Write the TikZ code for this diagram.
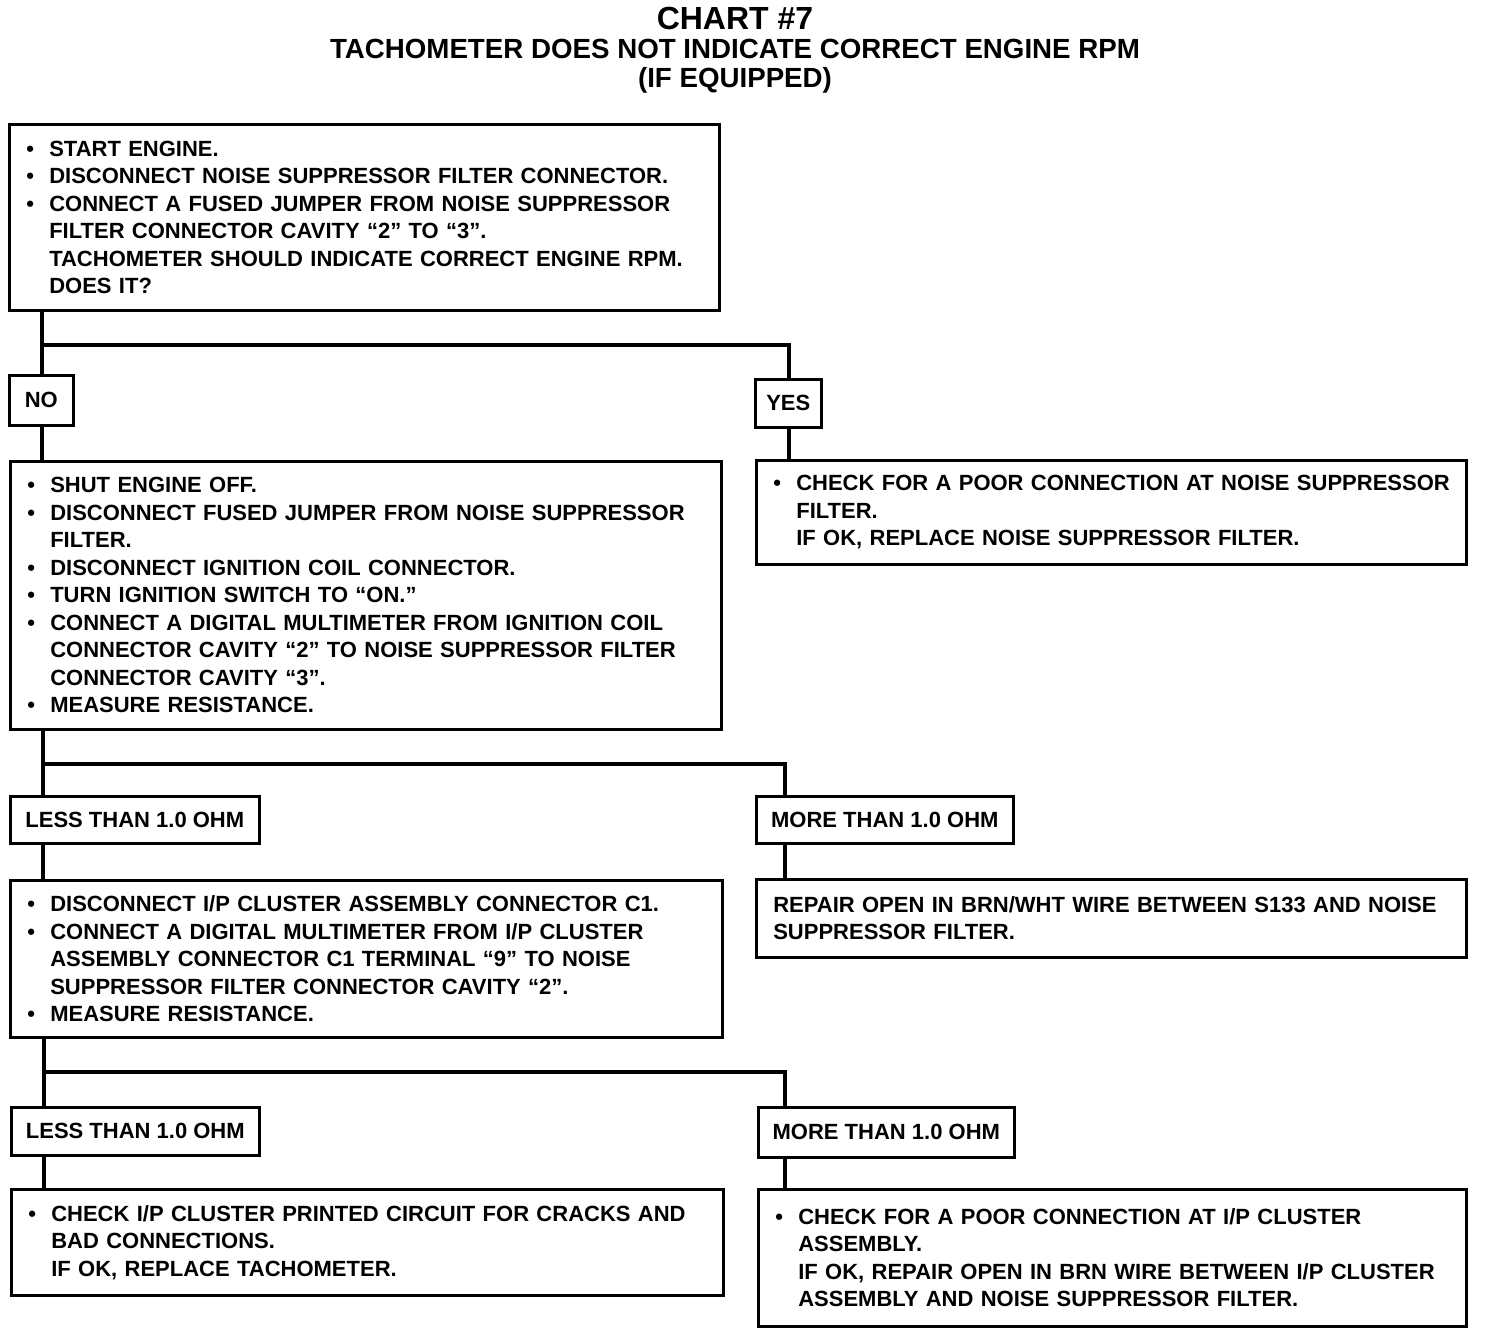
\documentclass[tikz,border=0pt]{standalone}
\usepackage{fontspec}
\setmainfont{Liberation Sans}
\usepackage{tikz}
\usetikzlibrary{positioning,calc}
\newcommand{\chartfont}{\fontsize{11pt}{13.75pt}\selectfont\bfseries}
\newcommand{\bitem}{\makebox[11.5pt][l]{\textbullet}}
\newcommand{\contline}{\hspace*{11.5pt}}

\begin{document}
\begin{tikzpicture}[x=0.5pt,y=-0.5pt,
    stepbox/.style={draw,line width=1.3pt,anchor=north west,align=left,font=\chartfont,inner xsep=8.5pt,inner ysep=0pt},
    answer/.style={draw,line width=1.3pt,anchor=north west,align=center,font=\chartfont,inner sep=0pt},
    wire/.style={line width=2.2pt,line join=miter}
  ]
    \useasboundingbox (0,0) rectangle (1488,1334);

    \node[font=\fontsize{16pt}{17pt}\selectfont\bfseries] (chart) at (735,18) {CHART \#7};
    \node[font=\fontsize{13.85pt}{14.3pt}\selectfont\bfseries,align=center] (subject) at (735,66) {TACHOMETER DOES NOT INDICATE CORRECT ENGINE RPM\\(IF EQUIPPED)};

    % first test
    \node[stepbox,text width=338pt,minimum height=93pt] (start) at (8,123) {%
      \bitem START ENGINE.\\
      \bitem DISCONNECT NOISE SUPPRESSOR FILTER CONNECTOR.\\
      \bitem CONNECT A FUSED JUMPER FROM NOISE SUPPRESSOR\\
      \contline FILTER CONNECTOR CAVITY “2” TO “3”.\\
      \contline TACHOMETER SHOULD INDICATE CORRECT ENGINE RPM.\\
      \contline DOES IT?};

    \node[answer,minimum width=32pt,minimum height=25pt] (no) at (8,374) {NO};
    \node[answer,minimum width=33pt,minimum height=24pt] (yes) at (754,378) {YES};

    \node[stepbox,text width=338.5pt,minimum height=134pt] (shut) at (9,460) {%
      \bitem SHUT ENGINE OFF.\\
      \bitem DISCONNECT FUSED JUMPER FROM NOISE SUPPRESSOR\\
      \contline FILTER.\\
      \bitem DISCONNECT IGNITION COIL CONNECTOR.\\
      \bitem TURN IGNITION SWITCH TO “ON.”\\
      \bitem CONNECT A DIGITAL MULTIMETER FROM IGNITION COIL\\
      \contline CONNECTOR CAVITY “2” TO NOISE SUPPRESSOR FILTER\\
      \contline CONNECTOR CAVITY “3”.\\
      \bitem MEASURE RESISTANCE.};
    \node[stepbox,text width=338pt,minimum height=52pt] (suppcheck) at (755,459) {%
      \mbox{\bitem CHECK FOR A POOR CONNECTION AT NOISE SUPPRESSOR}\\
      \contline FILTER.\\
      \contline IF OK, REPLACE NOISE SUPPRESSOR FILTER.};

    % second test
    \node[answer,minimum width=124.5pt,minimum height=23.5pt] (lessA) at (9,795) {LESS THAN 1.0 OHM};
    \node[answer,minimum width=128.5pt,minimum height=23.5pt] (moreA) at (755,795) {MORE THAN 1.0 OHM};

    \node[stepbox,text width=339pt,minimum height=78.5pt] (cluster) at (9,879) {%
      \bitem DISCONNECT I/P CLUSTER ASSEMBLY CONNECTOR C1.\\
      \bitem CONNECT A DIGITAL MULTIMETER FROM I/P CLUSTER\\
      \contline ASSEMBLY CONNECTOR C1 TERMINAL “9” TO NOISE\\
      \contline SUPPRESSOR FILTER CONNECTOR CAVITY “2”.\\
      \bitem MEASURE RESISTANCE.};
    \node[stepbox,text width=338pt,minimum height=39pt] (repair) at (755,878) {%
      REPAIR OPEN IN BRN/WHT WIRE BETWEEN S133 AND NOISE\\
      SUPPRESSOR FILTER.};

    % third test
    \node[answer,minimum width=124pt,minimum height=24pt] (lessB) at (10,1106) {LESS THAN 1.0 OHM};
    \node[answer,minimum width=128pt,minimum height=25pt] (moreB) at (757,1106) {MORE THAN 1.0 OHM};

    \node[stepbox,text width=339pt,minimum height=53pt] (circuit) at (10,1188) {%
      \bitem CHECK I/P CLUSTER PRINTED CIRCUIT FOR CRACKS AND\\
      \contline BAD CONNECTIONS.\\
      \contline IF OK, REPLACE TACHOMETER.};
    \node[stepbox,text width=337pt,minimum height=68.5pt] (brnwire) at (757,1188) {%
      \bitem CHECK FOR A POOR CONNECTION AT I/P CLUSTER\\
      \contline ASSEMBLY.\\
      \contline IF OK, REPAIR OPEN IN BRN WIRE BETWEEN I/P CLUSTER\\
      \contline ASSEMBLY AND NOISE SUPPRESSOR FILTER.};

    % connectors
    \coordinate (forkA) at (42,345);
    \coordinate (forkAr) at (789,345);
    \coordinate (forkB) at (43,764);
    \coordinate (forkBr) at (785,764);
    \coordinate (forkC) at (44,1072);
    \coordinate (forkCr) at (785,1072);

    \draw[wire] (start.south -| forkA) -- (forkA |- no.north);
    \draw[wire] (forkA) -- (forkAr) -- (forkAr |- yes.north);
    \draw[wire] (no.south -| forkA) -- (forkA |- shut.north);
    \draw[wire] (yes.south -| forkAr) -- (forkAr |- suppcheck.north);

    \draw[wire] (shut.south -| forkB) -- (forkB |- lessA.north);
    \draw[wire] (forkB) -- (forkBr) -- (forkBr |- moreA.north);
    \draw[wire] (lessA.south -| forkB) -- (forkB |- cluster.north);
    \draw[wire] (moreA.south -| forkBr) -- (forkBr |- repair.north);

    \draw[wire] (cluster.south -| forkC) -- (forkC |- lessB.north);
    \draw[wire] (forkC) -- (forkCr) -- (forkCr |- moreB.north);
    \draw[wire] (lessB.south -| forkC) -- (forkC |- circuit.north);
    \draw[wire] (moreB.south -| forkCr) -- (forkCr |- brnwire.north);
\end{tikzpicture}
\end{document}
